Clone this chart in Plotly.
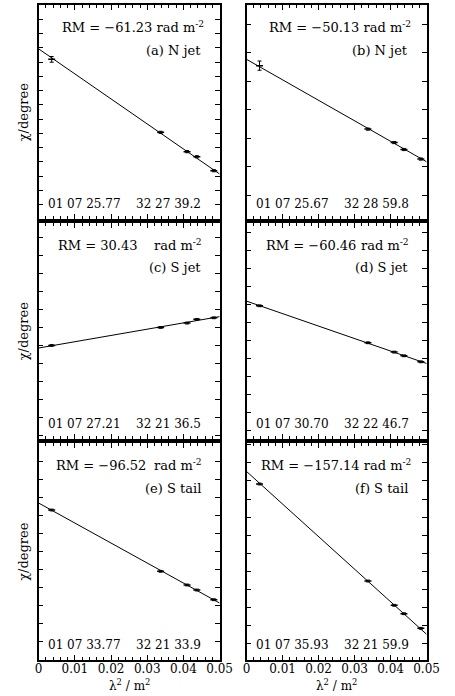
import numpy as np
import plotly.graph_objects as go

W, H = 455, 696

# ---------------- data ----------------
lam2 = [0.0036, 0.0337, 0.0410, 0.0437, 0.0484]

chi_a = [23.8, -78.5, -105.6, -112.7, -132.3]
err_a = [4.0, 1.5, 1.5, 1.5, 1.5]
chi_b = [62.0, -27.0, -45.8, -55.6, -69.0]
err_b = [6.5, 1.5, 1.5, 1.5, 1.5]
chi_c = [-100.0, -50.0, -38.0, -27.7, -23.3]
err_c = [2.5, 2.5, 2.5, 2.5, 2.5]
chi_d = [45.0, -57.7, -83.6, -93.9, -110.6]
err_d = [2.5, 2.5, 2.5, 2.5, 2.5]
chi_e = [64.7, -104.8, -142.6, -156.5, -183.3]
err_e = [2.5, 2.5, 2.5, 2.5, 2.5]
chi_f = [41.6, -226.6, -293.8, -317.0, -357.4]
err_f = [2.5, 2.5, 2.5, 2.5, 2.5]

rm_values = [-61.23, -50.13, 30.43, -60.46, -96.52, -157.14]
rm_text = ["−61.23", "−50.13", "30.43", "−60.46", "−96.52", "−157.14"]
panel_labels = ["(a) N jet", "(b) N jet", "(c) S jet", "(d) S jet", "(e) S tail", "(f) S tail"]
pos_ra = ["01 07 25.77", "01 07 25.67", "01 07 27.21", "01 07 30.70", "01 07 33.77", "01 07 35.93"]
pos_dec = ["32 27 39.2", "32 28 59.8", "32 21 36.5", "32 22 46.7", "32 21 33.9", "32 21 59.9"]

x_ticks = [0, 0.01, 0.02, 0.03, 0.04, 0.05]
x_tick_labels = ["0", "0.01", "0.02", "0.03", "0.04", "0.05"]

chis = [chi_a, chi_b, chi_c, chi_d, chi_e, chi_f]
errs = [err_a, err_b, err_c, err_d, err_e, err_f]

# ---------------- layout geometry (pixels) ----------------
cols = [(36, 224), (252, 439)]
rows = [(5, 219), (223, 439), (443, 660)]
y_ranges = [(-200, 100), (-153, 147), (-360, 240), (-325, 275), (-350, 250), (-445, 155)]
y_dticks = [20, 40, 50, 50, 50, 50]
# None -> single right-aligned string; number -> left offset of the "RM = value" part
rm_start = [None, None, 18, 18, 16, None]

FONT = "DejaVu Serif"
UNIT = "rad m<sup>-2</sup>"


def px(x):
    return x / W


def py(y):
    return 1 - y / H


fig = go.Figure()
annotations = []
layout = dict(
    width=W, height=H, margin=dict(l=0, r=0, t=0, b=0), autosize=False,
    paper_bgcolor="white", plot_bgcolor="white", showlegend=False,
    font=dict(family=FONT, color="black", size=12),
)

x_fit = np.array([0.0, 0.05])
lam = np.array(lam2)

for i in range(6):
    r, c = divmod(i, 2)
    left, right = cols[c]
    top, bottom = rows[r]
    n = i + 1
    xa = "x" if n == 1 else f"x{n}"
    ya = "y" if n == 1 else f"y{n}"
    xkey = "xaxis" if n == 1 else f"xaxis{n}"
    ykey = "yaxis" if n == 1 else f"yaxis{n}"

    chi = np.array(chis[i])
    slope = rm_values[i] * 180.0 / np.pi
    intercept = float(np.mean(chi - slope * lam))

    fig.add_trace(go.Scatter(
        x=x_fit, y=intercept + slope * x_fit, mode="lines",
        line=dict(color="black", width=1), xaxis=xa, yaxis=ya, hoverinfo="skip"))
    fig.add_trace(go.Scatter(
        x=lam2, y=chis[i], mode="markers",
        marker=dict(symbol="line-ew-open", size=5, color="black", line=dict(width=1.5, color="black")),
        error_y=dict(type="data", array=errs[i], visible=True, color="black", thickness=1, width=2),
        xaxis=xa, yaxis=ya))

    bottom_row = (r == 2)
    layout[xkey] = dict(
        domain=[px(left), px(right)], anchor=ya, range=[0, 0.05],
        showline=True, linecolor="black", linewidth=1.5, mirror="ticks",
        ticks="inside", ticklen=5, tickwidth=1, tickcolor="black",
        tickvals=x_ticks, ticktext=x_tick_labels, showticklabels=bottom_row,
        ticklabelstandoff=-3,
        tickfont=dict(family=FONT, size=12, color="black"),
        minor=dict(dtick=0.002, tick0=0, ticks="inside", ticklen=3, tickwidth=1, tickcolor="black"),
        showgrid=False, zeroline=False, fixedrange=True,
    )
    layout[ykey] = dict(
        domain=[py(bottom), py(top)], anchor=xa, range=list(y_ranges[i]),
        showline=True, linecolor="black", linewidth=1.5, mirror="ticks",
        ticks="inside", ticklen=5, tickwidth=1, tickcolor="black",
        tick0=0, dtick=y_dticks[i], showticklabels=False,
        showgrid=False, zeroline=False, fixedrange=True,
    )

    tf = dict(family=FONT, size=13, color="black")
    tf2 = dict(family=FONT, size=12, color="black")
    if rm_start[i] is None:
        annotations.append(dict(
            x=px(right - 14), y=py(top + 22), xref="paper", yref="paper",
            text="RM = " + rm_text[i] + " " + UNIT, showarrow=False,
            xanchor="right", yanchor="middle", font=tf))
    else:
        annotations += [
            dict(x=px(left + rm_start[i]), y=py(top + 22), xref="paper", yref="paper",
                 text="RM = " + rm_text[i], showarrow=False, xanchor="left", yanchor="middle", font=tf),
            dict(x=px(right - 16), y=py(top + 22), xref="paper", yref="paper",
                 text=UNIT, showarrow=False, xanchor="right", yanchor="middle", font=tf),
        ]
    annotations += [
        dict(x=px(right - 17), y=py(top + 45), xref="paper", yref="paper",
             text=panel_labels[i], showarrow=False, xanchor="right", yanchor="middle", font=tf),
        dict(x=px(left + 8), y=py(bottom - 15), xref="paper", yref="paper",
             text=pos_ra[i], showarrow=False, xanchor="left", yanchor="middle", font=tf2),
        dict(x=px(left + 99), y=py(bottom - 15), xref="paper", yref="paper",
             text=pos_dec[i], showarrow=False, xanchor="left", yanchor="middle", font=tf2),
    ]
    if c == 0:
        annotations.append(dict(
            x=px(20), y=py((top + bottom) / 2), xref="paper", yref="paper",
            text="χ/degree", showarrow=False, textangle=-90, xanchor="center", yanchor="middle",
            font=dict(family=FONT, size=13, color="black")))
    if bottom_row:
        annotations.append(dict(
            x=px((left + right) / 2), y=py(685), xref="paper", yref="paper",
            text="λ<sup>2</sup> / m<sup>2</sup>", showarrow=False, xanchor="center", yanchor="middle",
            font=dict(family=FONT, size=12, color="black")))

layout["annotations"] = annotations
fig.update_layout(**layout)
fig.write_html("out.html")
